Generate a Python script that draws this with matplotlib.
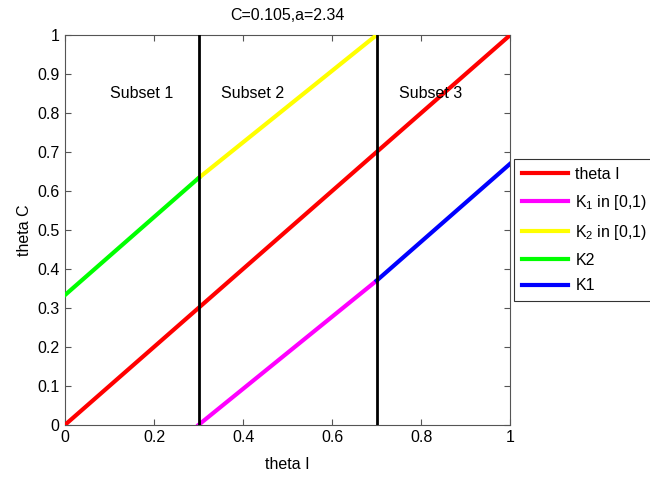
import matplotlib
matplotlib.use('Agg')
import matplotlib.pyplot as plt

plt.rcParams['font.family'] = ['Liberation Sans', 'DejaVu Sans']
plt.rcParams['mathtext.fontset'] = 'custom'
plt.rcParams['mathtext.rm'] = 'Liberation Sans'
plt.rcParams['mathtext.it'] = 'Liberation Sans'

# Daten
theta_x = [0, 1]
theta_y = [0, 1]
k1_sub_x = [0.3, 0.7]
k1_sub_y = [0.0, 0.37]
k2_sub_x = [0.3, 0.7]
k2_sub_y = [0.633, 1.0]
k2_x = [0, 0.3]
k2_y = [0.333, 0.633]
k1_x = [0.7, 1.0]
k1_y = [0.37, 0.67]
grenzen = [0.3, 0.7]
subset_labels = ['Subset 1', 'Subset 2', 'Subset 3']
subset_x = [0.10, 0.35, 0.75]
subset_y = 0.85

fs = 11.5

fig = plt.figure(figsize=(6.5, 4.79), dpi=100)
ax = fig.add_axes([0.1, 0.113, 0.685, 0.814])

ax.plot(theta_x, theta_y, color='#ff0000', lw=3, label='theta I', zorder=3)
ax.plot(k1_sub_x, k1_sub_y, color='#ff00ff', lw=3, label=r'K$_1$ in [0,1)', zorder=3)
ax.plot(k2_sub_x, k2_sub_y, color='#ffff00', lw=3, label=r'K$_2$ in [0,1)', zorder=3)
ax.plot(k2_x, k2_y, color='#00ff00', lw=3, label='K2', zorder=3)
ax.plot(k1_x, k1_y, color='#0000ff', lw=3, label='K1', zorder=3)

for g in grenzen:
    ax.plot([g, g], [0, 1], color='black', lw=2, zorder=4)

for lab, xs in zip(subset_labels, subset_x):
    ax.text(xs, subset_y, lab, fontsize=fs, va='center', ha='left')

ax.set_xlim(0, 1)
ax.set_ylim(0, 1)
ax.set_xticks([0, 0.2, 0.4, 0.6, 0.8, 1])
ax.set_xticklabels(['0', '0.2', '0.4', '0.6', '0.8', '1'])
ax.set_yticks([i / 10 for i in range(11)])
ax.set_yticklabels(['0'] + ['%.1f' % (i / 10) for i in range(1, 10)] + ['1'])
ax.tick_params(direction='in', top=True, right=True, labelsize=fs, length=4,
               color='#555555', pad=4)
for s in ax.spines.values():
    s.set_color('#555555')
    s.set_linewidth(0.8)

ax.set_xlabel('theta I', fontsize=fs, labelpad=8)
ax.set_ylabel('theta C', fontsize=fs, labelpad=4)
ax.set_title('C=0.105,a=2.34', fontsize=fs, pad=11)

leg = fig.legend(loc='upper left', bbox_to_anchor=(514 / 650, 1 - 159 / 479),
                 borderaxespad=0, fontsize=11.5, handlelength=2.9, frameon=True,
                 fancybox=False, edgecolor='black', borderpad=0.5,
                 labelspacing=0.68, handletextpad=0.45)
leg.get_frame().set_linewidth(0.8)

fig.savefig('out.png', dpi=100)
